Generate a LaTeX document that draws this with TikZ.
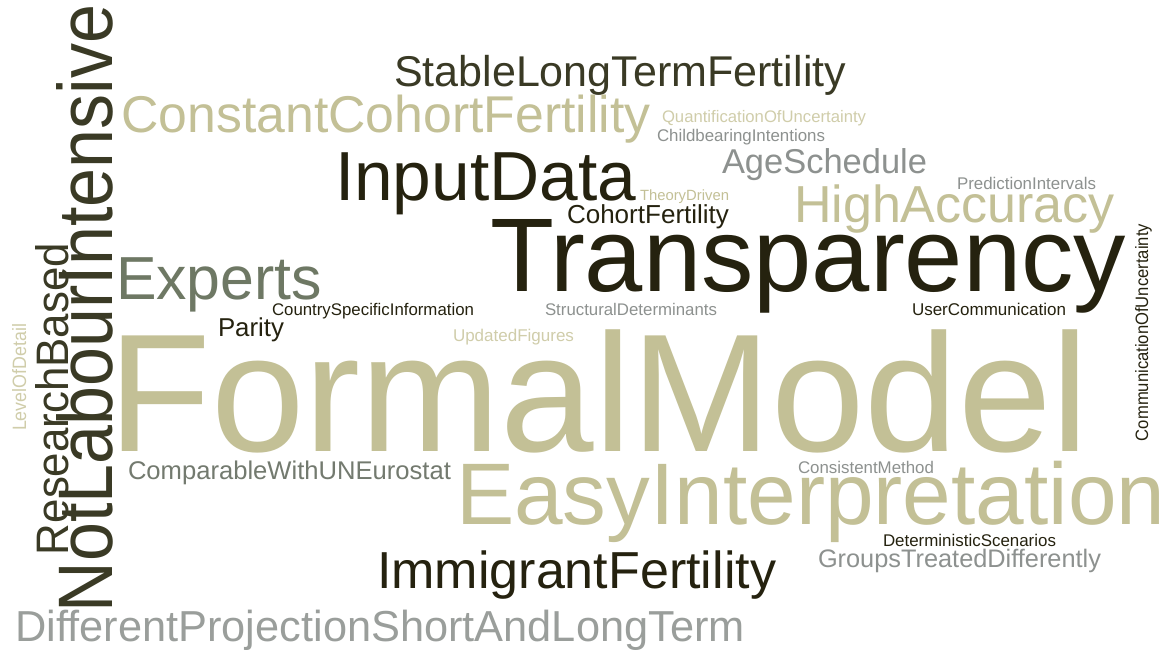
\documentclass[tikz,border=0pt]{standalone}
\usepackage{graphicx}
\usepackage{fontspec}
\setmainfont{Liberation Sans}
\definecolor{cdark}{HTML}{25220F}
\definecolor{colive}{HTML}{3A3A25}
\definecolor{ckhaki}{HTML}{C3C096}
\definecolor{clkhaki}{HTML}{D0CDAA}
\definecolor{cgrey}{HTML}{8D918F}
\definecolor{clgrey}{HTML}{9A9E9B}
\definecolor{cgreen}{HTML}{6E7864}
\definecolor{cmgrey}{HTML}{737A6F}
\tikzset{word/.style={anchor=base west, inner sep=0pt, outer sep=0pt}}
\newcommand{\hw}[6]{\node[word, text=#5] (#1) at (#2,#3) {\resizebox{#4pt}{!}{#6}};}
% vertical word: name, baseline x, start y, length, cross height, colour, text
\newcommand{\vw}[7]{\node[word, rotate=90, text=#6] (#1) at (#2,#3) {\resizebox{#4pt}{#5pt}{#7}};}
\begin{document}
\begin{tikzpicture}[x=1pt,y=-1pt]
\useasboundingbox (0,0) rectangle (1165,652);
\fill[white] (0,0) rectangle (1165,652);
% vertical words
\vw{nli}{112}{612}{607}{56}{colive}{NotLabourIntensive}
\vw{rb}{68}{555}{312}{33}{colive}{ResearchBased}
\vw{lod}{26}{431}{107}{14}{clkhaki}{LevelOfDetail}
\vw{cou}{1148}{441}{217}{13}{cdark}{CommunicationOfUncertainty}
% horizontal words
\hw{sltf}{394}{87}{452}{colive}{StableLongTermFertility}
\hw{ccf}{121.5}{133}{529}{ckhaki}{ConstantCohortFertility}
\hw{qou}{662}{123}{204}{clkhaki}{QuantificationOfUncertainty}
\hw{ci}{657}{142}{168}{cgrey}{ChildbearingIntentions}
\hw{as}{722}{174}{205}{cgrey}{AgeSchedule}
\hw{id}{335}{201}{301}{cdark}{InputData}
\hw{td}{640}{201}{89}{ckhaki}{TheoryDriven}
\hw{pi}{957}{190}{139}{cgrey}{PredictionIntervals}
\hw{ha}{794}{223}{321}{ckhaki}{HighAccuracy}
\hw{cf}{567}{224}{162}{cdark}{CohortFertility}
\hw{tr}{490}{292}{636}{cdark}{Transparency}
\hw{ex}{116}{300}{206}{cgreen}{Experts}
\hw{csi}{272}{316}{202}{cdark}{CountrySpecificInformation}
\hw{sd}{545}{316}{172}{cgrey}{StructuralDeterminants}
\hw{uc}{912}{316}{154}{cdark}{UserCommunication}
\hw{pa}{218}{337}{66}{cdark}{Parity}
\hw{uf}{453}{342}{121}{clkhaki}{UpdatedFigures}
\hw{fm}{108.5}{451}{980}{ckhaki}{FormalModel}
\hw{cwu}{128}{479}{323}{cmgrey}{ComparableWithUNEurostat}
\hw{cm}{798}{473}{136}{cgrey}{ConsistentMethod}
\hw{ei}{456}{524}{709}{ckhaki}{EasyInterpretation}
\hw{ds}{883}{546}{173}{cdark}{DeterministicScenarios}
\hw{gtd}{818}{567}{283}{cgrey}{GroupsTreatedDifferently}
\hw{imf}{377}{588}{399}{cdark}{ImmigrantFertility}
\hw{dps}{15.5}{641}{729}{clgrey}{DifferentProjectionShortAndLongTerm}
\end{tikzpicture}
\end{document}
